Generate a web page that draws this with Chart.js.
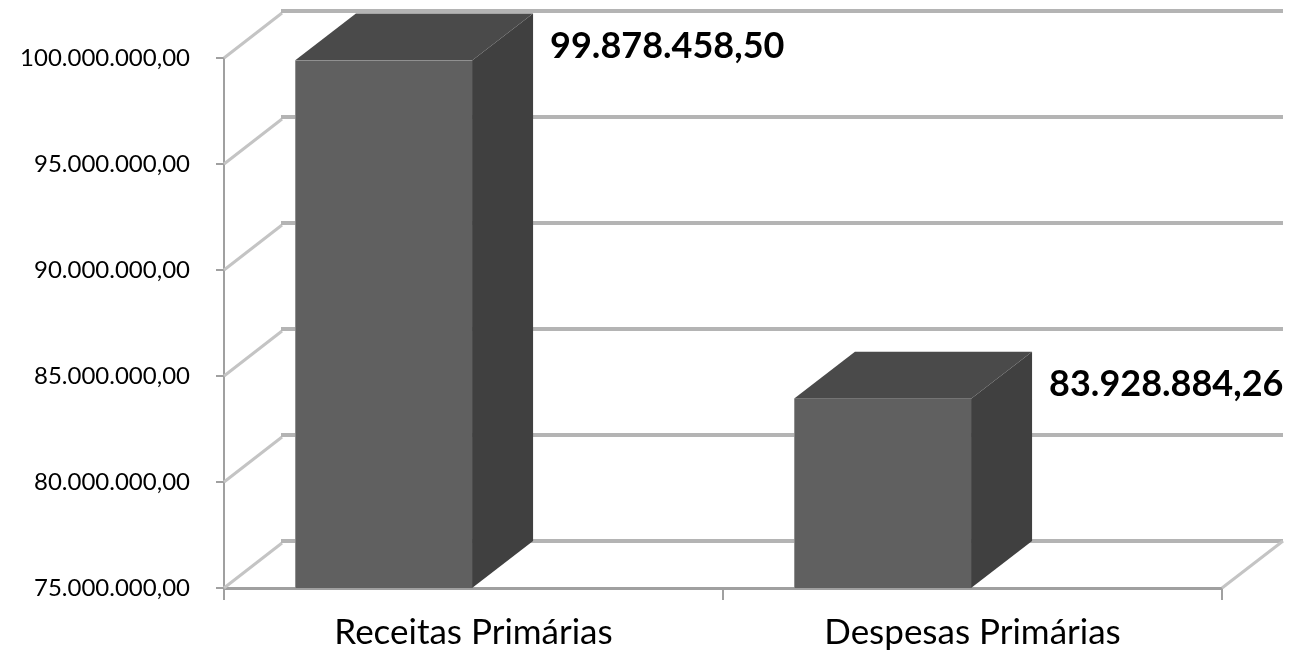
<!DOCTYPE html>
<html>
<head>
<meta charset="utf-8">
<script src="https://cdn.jsdelivr.net/npm/chart.js@4"></script>
<style>
  html, body { margin: 0; padding: 0; background: #ffffff; }
  #wrap { width: 1299px; height: 659px; }
</style>
</head>
<body>
<div id="wrap"><canvas id="chart" width="1299" height="659"></canvas></div>
<script>
var categories = ['Receitas Primárias', 'Despesas Primárias'];
var values = [99878458.50, 83928884.26];
var yMin = 75000000;
var yMax = 100000000;
var yStep = 5000000;

// depth of the 3d view (back wall offset) and bar shift inside the category
var DX = 61;
var DY = -47;
var BAR_SHIFT = -90;

function fmtBR(n) {
    var parts = n.toFixed(2).split('.');
    var intPart = parts[0].replace(/\B(?=(\d{3})+(?!\d))/g, '.');
    return intPart + ',' + parts[1];
}

var wallPlugin = {
    id: 'wall3d',
    beforeDatasetsDraw: function (chart) {
        var ctx = chart.ctx;
        var area = chart.chartArea;
        var ys = chart.scales.y;
        ctx.save();
        ys.ticks.forEach(function (t) {
            var y = ys.getPixelForValue(t.value);
            // side wall diagonal
            ctx.strokeStyle = '#c4c4c4';
            ctx.lineWidth = 3;
            ctx.beginPath();
            ctx.moveTo(area.left, y);
            ctx.lineTo(area.left + DX - 3, y + DY + 2);
            ctx.stroke();
            // back wall line
            ctx.strokeStyle = '#b4b4b4';
            ctx.lineWidth = 4;
            ctx.beginPath();
            ctx.moveTo(area.left + DX - 4, y + DY);
            ctx.lineTo(area.right + DX, y + DY);
            ctx.stroke();
        });
        // floor right edge
        ctx.strokeStyle = '#c4c4c4';
        ctx.lineWidth = 3;
        ctx.beginPath();
        ctx.moveTo(area.right, area.bottom);
        ctx.lineTo(area.right + DX, area.bottom + DY);
        ctx.stroke();
        ctx.restore();

        ctx.save();
        ctx.translate(BAR_SHIFT, 0);
    },
    afterDatasetsDraw: function (chart) {
        var ctx = chart.ctx;
        ctx.restore();
        var meta = chart.getDatasetMeta(0);
        var area = chart.chartArea;
        ctx.save();
        meta.data.forEach(function (bar, i) {
            var p = bar.getProps(['x', 'y', 'base', 'width'], true);
            var l = p.x - p.width / 2 + BAR_SHIFT;
            var r = p.x + p.width / 2 + BAR_SHIFT;
            var top = p.y;
            var bottom = Math.min(p.base, area.bottom);
            // side face
            ctx.fillStyle = '#404040';
            ctx.beginPath();
            ctx.moveTo(r, top);
            ctx.lineTo(r + DX, top + DY);
            ctx.lineTo(r + DX, bottom + DY);
            ctx.lineTo(r, bottom);
            ctx.closePath();
            ctx.fill();
            // top face
            ctx.fillStyle = '#4a4a4a';
            ctx.beginPath();
            ctx.moveTo(l, top);
            ctx.lineTo(l + DX, top + DY);
            ctx.lineTo(r + DX, top + DY);
            ctx.lineTo(r, top);
            ctx.closePath();
            ctx.fill();
            // value label
            ctx.fillStyle = '#000000';
            ctx.font = 'bold 36px Lato';
            ctx.textAlign = 'left';
            ctx.textBaseline = 'middle';
            ctx.fillText(fmtBR(values[i]), r + 78, top - 14);
        });
        ctx.restore();
    }
};

var ctx = document.getElementById('chart').getContext('2d');
new Chart(ctx, {
    type: 'bar',
    data: {
        labels: categories,
        datasets: [{
            data: values,
            backgroundColor: '#606060',
            borderColor: '#8a8a8a',
            borderWidth: { left: 1, right: 0, top: 0, bottom: 0 },
            categoryPercentage: 1,
            barPercentage: 0.355
        }]
    },
    options: {
        responsive: false,
        animation: false,
        layout: { padding: { top: 58, right: 77, left: 0, bottom: 0 } },
        plugins: {
            legend: { display: false },
            tooltip: { enabled: false }
        },
        scales: {
            x: {
                grid: {
                    offset: true,
                    drawOnChartArea: false,
                    tickLength: 12,
                    color: '#a0a0a0',
                    lineWidth: 2
                },
                border: { color: '#a0a0a0', width: 3 },
                ticks: {
                    color: '#000000',
                    font: { family: 'Lato', size: 35 },
                    padding: 12,
                    maxRotation: 0
                },
                afterFit: function (scale) { scale.height = 71; }
            },
            y: {
                min: yMin,
                max: yMax,
                grid: {
                    drawOnChartArea: false,
                    tickLength: 8,
                    color: '#a0a0a0',
                    lineWidth: 2
                },
                border: { color: '#a0a0a0', width: 2 },
                ticks: {
                    stepSize: yStep,
                    color: '#000000',
                    font: { family: 'Lato', size: 24 },
                    padding: 26,
                    callback: function (v) { return fmtBR(v); }
                },
                afterFit: function (scale) { scale.width = 224; }
            }
        }
    },
    plugins: [wallPlugin]
});
</script>
</body>
</html>
